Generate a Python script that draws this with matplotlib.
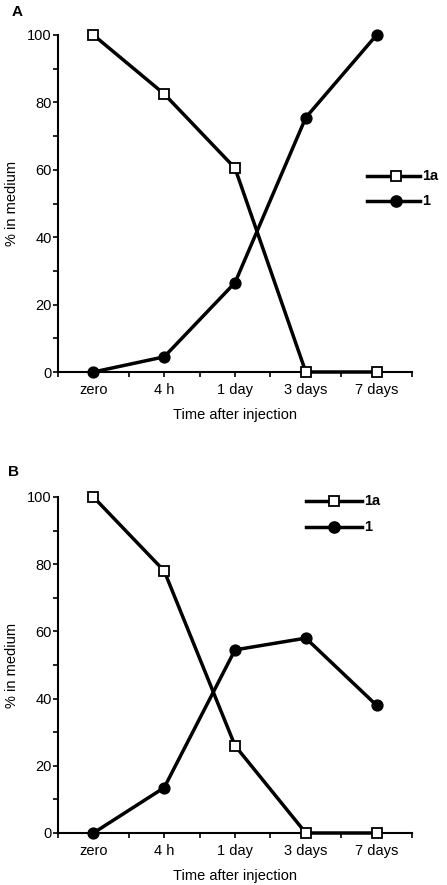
import matplotlib
matplotlib.use("Agg")
import matplotlib.pyplot as plt
from matplotlib.ticker import MultipleLocator
from matplotlib.lines import Line2D

plt.rcParams['font.family'] = ['Liberation Sans', 'DejaVu Sans']

categories = ["zero", "4 h", "1 day", "3 days", "7 days"]
a_1a = [100, 82.5, 60.5, 0, 0]
a_1 = [0, 4.5, 26.5, 75.5, 100]
b_1a = [100, 78, 26, 0, 0]
b_1 = [0, 13.5, 54.5, 58, 38]
yticks = [0, 20, 40, 60, 80, 100]

W, H = 447, 885
fig = plt.figure(figsize=(W / 100, H / 100), dpi=100)

def px_axes(left, top, right, bottom):
    return fig.add_axes([left / W, 1 - bottom / H, (right - left) / W, (bottom - top) / H])

axA = px_axes(58, 35, 412, 372)
axB = px_axes(58, 497, 412, 833)

LW = 2.5
MS = 7.8

def style(ax, s1a, s1, leg_pos):
    x = list(range(len(categories)))
    ax.plot(x, s1a, color='black', lw=LW, marker='s', ms=MS, mfc='white', mec='black',
            mew=1.3, clip_on=False, zorder=4)
    ax.plot(x, s1, color='black', lw=LW, marker='o', ms=MS, mfc='black', mec='black',
            clip_on=False, zorder=3)
    ax.set_xlim(-0.5, 4.5)
    ax.set_ylim(0, 100)
    ax.set_xticks(x)
    ax.set_xticklabels(categories)
    ax.xaxis.set_minor_locator(MultipleLocator(0.5))
    ax.set_yticks(yticks)
    ax.yaxis.set_minor_locator(MultipleLocator(10))
    for s in ['top', 'right']:
        ax.spines[s].set_visible(False)
    for s in ['left', 'bottom']:
        ax.spines[s].set_linewidth(1.5)
    ax.tick_params(which='both', direction='out', width=1.2, length=3.6, labelsize=10.5)
    ax.tick_params(axis='y', pad=1)
    ax.tick_params(axis='x', pad=4)
    ax.set_ylabel('% in medium', fontsize=10.5, labelpad=6)
    ax.set_xlabel('Time after injection', fontsize=10.5, labelpad=8)
    # legend drawn manually
    lx0, lx1, mx, tx, y1, y2 = leg_pos
    for yy, mk, fc, lab in [(y1, 's', 'white', '1a'), (y2, 'o', 'black', '1')]:
        fig.add_artist(Line2D([lx0 / W, lx1 / W], [1 - yy / H, 1 - yy / H], color='black', lw=LW))
        fig.add_artist(Line2D([mx / W], [1 - yy / H], marker=mk, ms=MS, mfc=fc, mec='black',
                              mew=1.3, lw=0))
        fig.text(tx / W, 1 - yy / H, lab, fontsize=10.5, fontweight='bold', va='center', ha='left')

style(axA, a_1a, a_1, (367, 420, 396, 422, 176, 201))
style(axB, b_1a, b_1, (306, 362, 334, 364, 501, 527))

fig.text(12 / W, 1 - 12 / H, 'A', fontsize=11, fontweight='bold', va='center', ha='left')
fig.text(8 / W, 1 - 472 / H, 'B', fontsize=11, fontweight='bold', va='center', ha='left')

fig.savefig('out.png', dpi=100)
